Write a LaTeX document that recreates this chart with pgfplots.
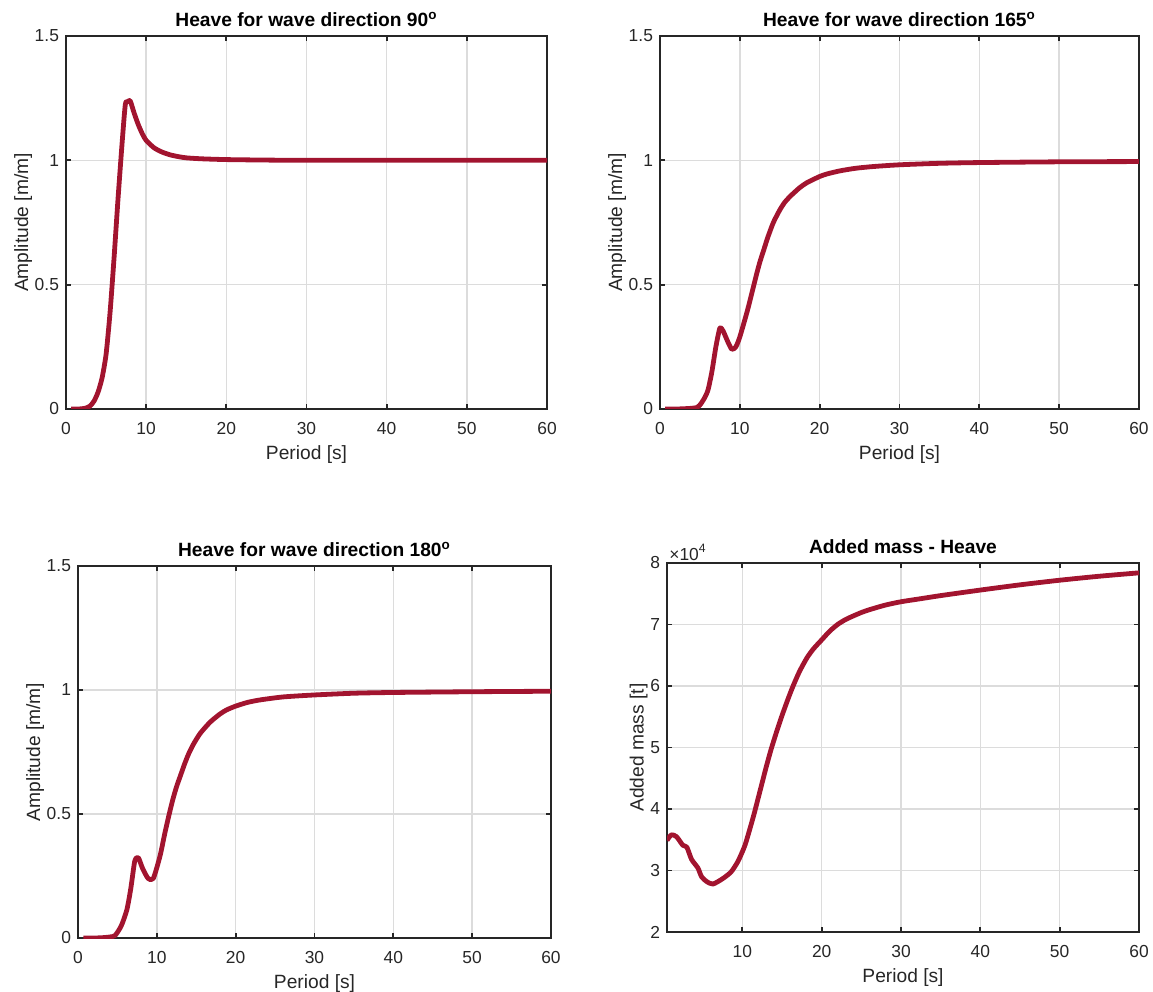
\documentclass[border=0pt]{standalone}
\usepackage{pgfplots}
\pgfplotsset{compat=1.18}
\usepackage{fontspec}
\setmainfont{Liberation Sans}
\definecolor{curve}{RGB}{162,20,47}
\definecolor{axc}{RGB}{38,38,38}
\definecolor{gridc}{RGB}{220,220,220}
\pgfplotsset{
  every axis/.style={
    scale only axis,
    anchor=south west,
    axis line style={axc, line width=0.9pt},
    tick style={axc, line width=0.9pt},
    major tick length=2.5pt,
    tick align=inside,
    xtick pos=both, ytick pos=both,
    grid=major,
    major grid style={gridc, line width=0.7pt},
    ticklabel style={font=\fontsize{8.7}{10}\selectfont, text=axc},
    xticklabel style={yshift=-3pt},
    label style={font=\fontsize{9.6}{11}\selectfont, text=axc},
    title style={font=\bfseries\fontsize{9.6}{11}\selectfont, text=black, yshift=-5pt},
    /pgf/number format/assume math mode=true,
    xlabel={Period [s]},
    xlabel style={yshift=1.5pt},
    ylabel style={yshift=-5.5pt},
  },
  mycurve/.style={curve, line width=2.4pt, line join=round, smooth, tension=0.4},
}
\begin{document}
\begin{tikzpicture}[x=1pt,y=1pt]
\path[use as bounding box] (0,0) rectangle (576.5,496);
% Panel 1
\begin{axis}[at={(33pt,291.5pt)}, width=240.5pt, height=186.5pt,
  xmin=0, xmax=60, ymin=0, ymax=1.5,
  xtick={0,10,...,60}, ytick={0,0.5,1,1.5},
  yticklabels={0,0.5,1,1.5},
  ylabel={Amplitude [m/m]},
  title={Heave for wave direction 90\textsuperscript{o}}]
\addplot[mycurve] coordinates {
(0.63,0) (1,0) (1.5,0) (2,0.001) (2.5,0.004) (3,0.012) (3.5,0.032) (4,0.068)
(4.5,0.125) (5,0.22) (5.5,0.39) (6,0.61) (6.5,0.85) (7,1.07) (7.4,1.225)
(7.7,1.235) (8,1.24) (8.5,1.19) (9,1.145) (9.5,1.108) (10,1.08) (11,1.05)
(12,1.033) (13,1.022) (14,1.015) (15,1.01) (17,1.006) (20,1.003) (25,1.001)
(30,1.0) (40,1.0) (60,1.0)};
\end{axis}
% Panel 2
\begin{axis}[at={(330pt,291.5pt)}, width=239.5pt, height=186.5pt,
  xmin=0, xmax=60, ymin=0, ymax=1.5,
  xtick={0,10,...,60}, ytick={0,0.5,1,1.5},
  yticklabels={0,0.5,1,1.5},
  ylabel={Amplitude [m/m]},
  title={Heave for wave direction 165\textsuperscript{o}}]
\addplot[mycurve] coordinates {
(0.63,0) (2,0) (3,0.001) (4,0.003) (4.6,0.006) (5,0.016) (5.5,0.04) (6,0.075)
(6.5,0.15) (7,0.25) (7.5,0.325) (7.9,0.314) (8.5,0.27) (9,0.24) (9.5,0.25)
(10,0.29) (10.9,0.39) (11.5,0.465) (12,0.53) (12.5,0.59) (13,0.64) (13.5,0.69)
(14.2,0.75) (15,0.8) (15.6,0.83) (16.3,0.855) (17.5,0.89) (18.4,0.91)
(20,0.935) (21,0.946) (22.6,0.958) (24.5,0.968) (26.7,0.975) (30,0.982)
(35,0.988) (40,0.991) (50,0.994) (60,0.995)};
\end{axis}
% Panel 3
\begin{axis}[at={(39pt,27pt)}, width=236.5pt, height=186pt,
  xmin=0, xmax=60, ymin=0, ymax=1.5,
  xtick={0,10,...,60}, ytick={0,0.5,1,1.5},
  yticklabels={0,0.5,1,1.5},
  ylabel={Amplitude [m/m]},
  title={Heave for wave direction 180\textsuperscript{o}}]
\addplot[mycurve] coordinates {
(0.67,0) (2,0) (3,0.001) (4,0.004) (4.7,0.01) (5.5,0.05) (6.2,0.114)
(6.7,0.2) (7.2,0.31) (7.65,0.324) (8.2,0.28) (8.9,0.24) (9.55,0.24)
(10.4,0.33) (11,0.42) (11.5,0.49) (12,0.555) (12.5,0.61) (13,0.655)
(13.5,0.7) (14,0.74) (14.6,0.779) (15.5,0.825) (16.75,0.87) (18,0.903)
(18.86,0.92) (20,0.935) (21.5,0.95) (23.1,0.96) (26,0.972) (30,0.98)
(35,0.987) (40,0.99) (50,0.993) (60,0.995)};
\end{axis}
% Panel 4
\begin{axis}[at={(333.5pt,30pt)}, width=236pt, height=184.5pt,
  xmin=0.5, xmax=60, ymin=20000, ymax=80000,
  xtick={10,20,...,60}, ytick={20000,30000,...,80000},
  scaled y ticks=false,
  yticklabels={2,3,4,5,6,7,8},
  ylabel={Added mass [t]},
  title={Added mass - Heave},
  extra description/.code={\node[anchor=south west, inner sep=1pt, font=\fontsize{8.7}{10}\selectfont, text=axc] at (rel axis cs:0,1) {×10\textsuperscript{4}};}]
\addplot[mycurve] coordinates {
(0.5,34900) (1.05,35800) (1.7,35500) (2.5,34100) (3.0,33800) (3.6,31800)
(4.4,30400) (4.85,29000) (5.5,28200) (6.3,27800) (7.55,28700) (8.6,29800)
(9.45,31500) (10.3,34000) (11,37000) (11.5,39300) (12,41800) (12.5,44300)
(13,46800) (13.6,49600) (14.3,52500) (15,55200) (15.7,57700) (16.3,59700)
(17,61800) (17.5,63100) (18.2,64700) (19,66100) (20,67500) (21,68900)
(22,70000) (23,70800) (24,71400) (25,71950) (26,72400) (28,73150)
(30,73700) (32.5,74200) (35,74700) (40,75600) (45,76450) (50,77200)
(55,77850) (60,78400)};
\end{axis}
\end{tikzpicture}
\end{document}
